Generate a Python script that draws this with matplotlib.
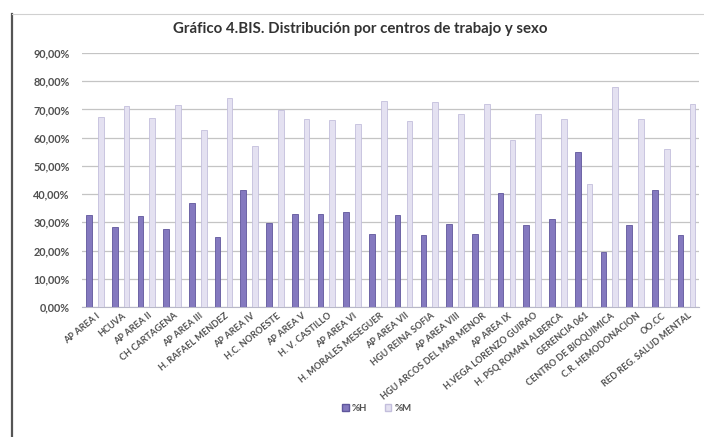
import matplotlib
matplotlib.use("Agg")
import matplotlib.pyplot as plt
import numpy as np
from matplotlib.lines import Line2D
from matplotlib.ticker import FuncFormatter, MultipleLocator

centros = [
    "AP AREA I", "HCUVA", "AP AREA II", "CH CARTAGENA", "AP AREA III",
    "H. RAFAEL MENDEZ", "AP AREA IV", "H.C. NOROESTE", "AP AREA V",
    "H. V. CASTILLO", "AP AREA VI", "H. MORALES MESEGUER", "AP AREA VII",
    "HGU REINA SOFIA", "AP AREA VIII", "HGU ARCOS DEL MAR MENOR", "AP AREA IX",
    "H.VEGA LORENZO GUIRAO", "H. PSQ ROMAN ALBERCA", "GERENCIA 061",
    "CENTRO DE BIOQUIMICA", "C.R. HEMODONACION", "OO.CC",
    "RED REG. SALUD MENTAL",
]
pct_h = [32.7, 28.5, 32.1, 27.6, 36.8, 24.8, 41.3, 29.8, 32.8, 32.9, 33.5, 26.0,
         32.7, 25.4, 29.3, 26.0, 40.2, 29.0, 31.2, 54.9, 19.4, 29.0, 41.3, 25.4]
pct_m = [67.3, 71.2, 67.1, 71.4, 62.6, 74.0, 56.9, 69.7, 66.5, 66.1, 64.9, 73.0,
         65.9, 72.6, 68.5, 72.0, 59.0, 68.2, 66.5, 43.5, 78.0, 66.7, 56.1, 72.0]
serie_h = "%H"
serie_m = "%M"
titulo = "Gráfico 4.BIS. Distribución por centros de trabajo y sexo"

FONT = "Lato"
col_h = "#8479bf"
col_h_edge = "#5f569c"
col_m = "#e4e1f1"
col_m_edge = "#c3bedc"

fig = plt.figure(figsize=(7.04, 4.37), dpi=100)
fig.patch.set_facecolor("white")
ax = fig.add_axes([0.1165, 0.2975, 0.877, 0.5815])

x = np.arange(len(centros))
w = 0.22
ax.bar(x - 0.23, np.array(pct_h) / 100, width=w, color=col_h,
       edgecolor=col_h_edge, linewidth=0.6, zorder=3)
ax.bar(x + 0.23, np.array(pct_m) / 100, width=w, color=col_m,
       edgecolor=col_m_edge, linewidth=0.6, zorder=3)

ax.set_xlim(-0.5, len(centros) - 0.5)
ax.set_ylim(0, 0.9)
ax.yaxis.set_major_locator(MultipleLocator(0.1))
ax.yaxis.set_major_formatter(
    FuncFormatter(lambda v, _: f"{v * 100:.2f}%".replace(".", ",")))
ax.grid(axis="y", color="#c4c4c4", linewidth=0.9, zorder=0)
for s in ("top", "right", "left"):
    ax.spines[s].set_visible(False)
ax.spines["bottom"].set_color("#b8b8c8")
ax.tick_params(axis="y", length=0, pad=9, labelsize=7.8, labelcolor="#505050")
ax.tick_params(axis="x", length=0, pad=3)
for t in ax.get_yticklabels():
    t.set_fontfamily(FONT)
    t.set_fontweight("bold")

ax.set_xticks(x + 0.05)
ax.set_xticklabels(centros, rotation=39, ha="right", rotation_mode="anchor",
                   fontsize=6.6, fontweight="bold", color="#505050",
                   family=FONT)

fig.text(0.512, 0.933, titulo, ha="center", va="center", fontsize=10.8,
         fontweight="bold", color="#333333", family=FONT)

# chart frame: dark left edge and light top rule
fig.add_artist(Line2D([0.017, 0.017], [0.0, 0.968], color="#555555",
                      linewidth=1.6, transform=fig.transFigure))
fig.add_artist(Line2D([0.017, 1.0], [0.968, 0.968], color="#d0d0d0",
                      linewidth=0.8, transform=fig.transFigure))

handles = [plt.Rectangle((0, 0), 1, 1, facecolor=col_h, edgecolor=col_h_edge),
           plt.Rectangle((0, 0), 1, 1, facecolor=col_m, edgecolor=col_m_edge)]
leg = fig.legend(handles, [serie_h, serie_m], loc="center",
                 bbox_to_anchor=(0.535, 0.066), ncol=2, frameon=False,
                 handlelength=0.7, handleheight=0.7, columnspacing=1.8,
                 handletextpad=0.3, prop={"family": FONT, "weight": "bold",
                                          "size": 7})
for t in leg.get_texts():
    t.set_color("#505050")

fig.savefig("out.png", dpi=100, facecolor="white")
